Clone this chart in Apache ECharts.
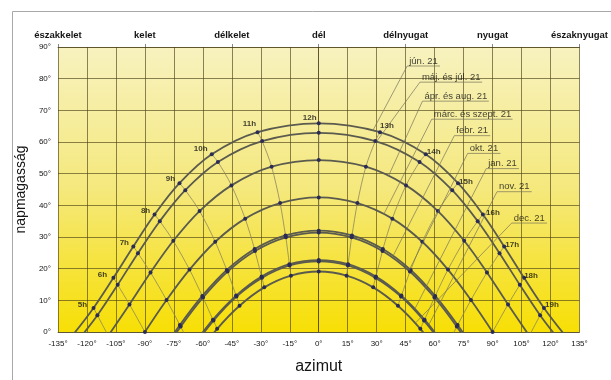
<!DOCTYPE html>
<html><head><meta charset="utf-8">
<script src="https://cdn.jsdelivr.net/npm/echarts@6/dist/echarts.min.js"></script>
<style>html,body{margin:0;padding:0;background:#fff}#c{width:611px;height:380px}</style>
</head><body><div id="c"></div>
<script>
// hour index: 0 = 4h ... 8 = 12h ... 16 = 20h ; points are [azimuth, altitude]
const hourNames = ['4h','5h','6h','7h','8h','9h','10h','11h','12h','13h','14h','15h','16h','17h','18h','19h','20h'];
const xTickLabels = ['-135°','-120°','-105°','-90°','-75°','-60°','-45°','-30°','-15°','0°','15°','30°','45°','60°','75°','90°','105°','120°','135°'];
const yTickLabels = ['0°','10°','20°','30°','40°','50°','60°','70°','80°','90°'];
const dirNames = ['északkelet','kelet','délkelet','dél','délnyugat','nyugat','északnyugat'];

const jun = [[-127.4,-1.0],[-116.6,7.6],[-106.3,17.1],[-96.0,27.0],[-85.0,37.1],[-72.1,47.0],[-55.4,56.1],[-31.7,63.1],[0,65.9],[31.7,63.1],[55.4,56.1],[72.1,47.0],[85.0,37.1],[96.0,27.0],[106.3,17.1],[116.6,7.6],[127.4,-1.0]];
const majJul = [[-125.6,-3.4],[-114.6,5.3],[-104.1,14.9],[-93.6,24.9],[-82.3,35.0],[-69.1,44.8],[-52.2,53.7],[-29.3,60.3],[0,62.9],[29.3,60.3],[52.2,53.7],[69.1,44.8],[82.3,35.0],[93.6,24.9],[104.1,14.9],[114.6,5.3],[125.6,-3.4]];
const aprAug = [null,[-109.0,-1.2],[-98.0,8.7],[-87.1,18.8],[-75.3,28.8],[-61.7,38.2],[-45.2,46.3],[-24.4,52.2],[0,54.3],[24.4,52.2],[45.2,46.3],[61.7,38.2],[75.3,28.8],[87.1,18.8],[98.0,8.7],[109.0,-1.2],null];
const marcSzept = [null,null,[-90,0],[-78.8,10.1],[-66.9,19.7],[-53.6,28.5],[-38.1,35.8],[-20.0,40.7],[0,42.5],[20.0,40.7],[38.1,35.8],[53.6,28.5],[66.9,19.7],[78.8,10.1],[90,0],null,null];
const febr = [null,null,[-82.9,-7.7],[-71.9,2.2],[-60.3,11.4],[-47.6,19.6],[-33.2,26.2],[-17.2,30.5],[0,32.0],[17.2,30.5],[33.2,26.2],[47.6,19.6],[60.3,11.4],[71.9,2.2],[82.9,-7.7],null,null];
const okt = [null,null,[-82.5,-8.2],[-71.5,1.7],[-59.9,10.9],[-47.2,19.1],[-33.0,25.6],[-17.0,29.9],[0,31.4],[17.0,29.9],[33.0,25.6],[47.2,19.1],[59.9,10.9],[71.5,1.7],[82.5,-8.2],null,null];
const nov = [null,null,null,[-65.8,-4.9],[-54.8,3.9],[-42.8,11.5],[-29.6,17.5],[-15.2,21.4],[0,22.7],[15.2,21.4],[29.6,17.5],[42.8,11.5],[54.8,3.9],[65.8,-4.9],null,null,null];
const jan = [null,null,null,[-65.5,-5.2],[-54.5,3.6],[-42.6,11.2],[-29.4,17.1],[-15.1,21.0],[0,22.3],[15.1,21.0],[29.4,17.1],[42.6,11.2],[54.5,3.6],[65.5,-5.2],null,null,null];
const dec = [null,null,null,[-63.4,-7.6],[-52.6,1.0],[-41.0,8.3],[-28.2,14.1],[-14.4,17.8],[0,19.1],[14.4,17.8],[28.2,14.1],[41.0,8.3],[52.6,1.0],[63.4,-7.6],null,null,null];

const dateLabels = ['jún. 21','máj. és júl. 21','ápr. és aug. 21','márc. és szept. 21','febr. 21','okt. 21','jan. 21','nov. 21','dec. 21'];
const labelAnchor = [[45.8,84.0],[52.4,78.9],[53.7,72.9],[58.5,67.2],[70.2,62.0],[77.1,56.4],[86.7,51.6],[92.3,44.3],[99.9,34.4]];
const leaderEnd = [[28,63.6],[30,60.2],[36,49.1],[33.7,37.2],[38.3,23.8],[46.7,19.4],[49.7,7.2],[57,2.3],[50,2.8]];

const FONT = '"Liberation Sans", Arial, sans-serif';
const GRID = {left:58, right:20, top:47, bottom:38};
const pxPerDeg = (611 - GRID.left - GRID.right) / 270;
const DATE_FS = 9.5;

const chart = echarts.init(document.getElementById('c'));
const series = [];

// hour lines (same hour across dates)
const byAlt = [jun, majJul, aprAug, marcSzept, febr, okt, nov, jan, dec];
for (let i = 0; i < hourNames.length; i++) {
  const pts = byAlt.map(c => c[i]).filter(p => p);
  if (pts.length < 2) continue;
  series.push({type:'line', data:pts, smooth:0.3, symbol:'none', silent:true, z:2,
    lineStyle:{color:'#8c875a', width:0.8}});
}

const dayCurves = [jun, majJul, aprAug, marcSzept, febr, okt, jan, nov, dec];
dayCurves.forEach((c) => {
  series.push({type:'line', data:c.filter(p => p), smooth:0.35, symbol:'circle', symbolSize:4, clip:true, z:3, silent:true,
    itemStyle:{color:'#2b2c55'}, lineStyle:{color:'#5a5a4e', width:1.8}});
});

// hour labels next to the June points (label offsets in px)
const hourLabelOffset = {1:[-11,-3],2:[-11,-3],3:[-9,-4],4:[-9,-4],5:[-9,-4],6:[-11,-6],7:[-8,-8],8:[-9,-6],
  9:[7,-6],10:[8,-3],11:[8,-1],12:[10,-2],13:[8,-2],14:[7,-2],15:[8,-3]};
series.push({type:'scatter', symbolSize:0, z:6, silent:true,
  data: jun.map((p, i) => ({value:p, name:hourNames[i],
    label:{show: !!hourLabelOffset[i], offset: hourLabelOffset[i] || [0,0]}})),
  label:{position:'inside', formatter:p => p.name, fontSize:8, fontWeight:'bold', color:'#111', fontFamily:FONT}});

// leader lines with underline
const mctx = document.createElement('canvas').getContext('2d');
mctx.font = DATE_FS + 'px ' + FONT;
dateLabels.forEach((t, k) => {
  const w = mctx.measureText(t).width + 5;
  const a = labelAnchor[k], e = leaderEnd[k];
  series.push({type:'line', data:[e, a, [a[0] + w / pxPerDeg, a[1]]], symbol:'none', silent:true, z:4,
    lineStyle:{color:'#77735a', width:0.7}});
});
series.push({type:'scatter', symbolSize:0, z:5, silent:true,
  data: labelAnchor.map((a, k) => ({value:a, name:dateLabels[k]})),
  label:{show:true, position:'right', distance:2, offset:[0,-5], formatter:p => p.name,
    fontSize:DATE_FS, color:'#111', fontFamily:FONT}});

const gridColor = 'rgba(70,60,20,0.62)';
chart.setOption({
  animation:false,
  textStyle:{fontFamily:FONT},
  graphic:[{type:'rect', shape:{x:12.5, y:11.5, width:700, height:500}, silent:true,
    style:{fill:null, stroke:'#a8a8a8', lineWidth:1}}],
  grid:{...GRID, show:true, borderWidth:0,
    backgroundColor:new echarts.graphic.LinearGradient(0,0,0,1,[
      {offset:0, color:'#f7f2bf'},{offset:0.5, color:'#f5e87c'},{offset:1, color:'#f7df05'}])},
  xAxis:[
    {type:'value', min:-135, max:135, interval:15, position:'bottom',
     name:'azimut', nameLocation:'middle', nameGap:27, nameTextStyle:{fontSize:16, color:'#151515', fontFamily:FONT},
     axisLine:{show:true, lineStyle:{color:gridColor}}, axisTick:{show:false},
     splitLine:{show:true, lineStyle:{color:gridColor, width:1}},
     axisLabel:{fontSize:8, color:'#151515', margin:8, formatter:v => xTickLabels[Math.round((v + 135) / 15)]}},
    {type:'value', min:-135, max:135, interval:45, position:'top',
     axisLine:{show:true, lineStyle:{color:gridColor}}, axisTick:{show:true, length:3, lineStyle:{color:'#888'}},
     splitLine:{show:false},
     axisLabel:{fontSize:9.5, fontWeight:'bold', color:'#151515', margin:7, formatter:v => dirNames[Math.round((v + 135) / 45)]}}
  ],
  yAxis:{type:'value', min:0, max:90, interval:10,
    name:'napmagasság', nameLocation:'middle', nameGap:29, nameRotate:90,
    nameTextStyle:{fontSize:14, color:'#151515', fontFamily:FONT},
    axisLine:{show:true, lineStyle:{color:gridColor}}, axisTick:{show:false},
    splitLine:{show:true, lineStyle:{color:gridColor, width:1}},
    axisLabel:{fontSize:8, color:'#151515', margin:7, formatter:v => yTickLabels[Math.round(v / 10)]}},
  series
});
</script></body></html>
